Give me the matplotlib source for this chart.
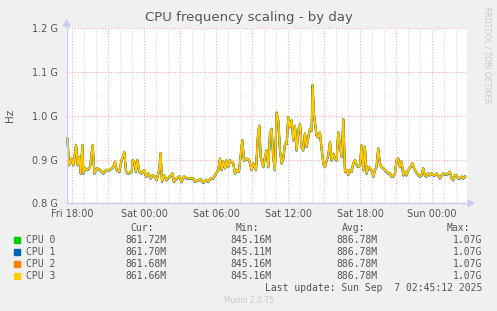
import matplotlib
matplotlib.use("Agg")
import matplotlib.pyplot as plt
import matplotlib.transforms as mtransforms
from matplotlib.patches import Rectangle, Polygon

# hours after Fri 18:00, and frequency in MHz
hours = [-0.41, -0.27, -0.05, 0.09, 0.31, 0.45, 0.59, 0.70, 0.84, 0.92,
         1.06, 1.25, 1.48, 1.70, 1.84, 2.03, 2.31, 2.59, 2.81, 3.14,
         3.42, 3.56, 3.70, 3.92, 4.11, 4.34, 4.48, 4.67, 4.95, 5.03,
         5.17, 5.31, 5.42, 5.59, 5.78, 6.00, 6.14, 6.34, 6.53, 6.70,
         6.89, 7.03, 7.25, 7.36, 7.48, 7.64, 7.86, 8.14, 8.34, 8.47,
         8.70, 8.92, 9.11, 9.31, 9.53, 9.81, 10.09, 10.22, 10.50, 10.73,
         10.92, 11.14, 11.34, 11.53, 11.75, 11.98, 12.17, 12.31, 12.45, 12.59,
         12.73, 12.86, 13.00, 13.14, 13.28, 13.42, 13.56, 13.70, 13.89, 14.17,
         14.31, 14.53, 14.75, 14.95, 15.09, 15.31, 15.50, 15.59, 15.70, 15.92,
         16.06, 16.20, 16.34, 16.48, 16.61, 16.75, 16.89, 17.03, 17.17, 17.31,
         17.45, 17.59, 17.73, 17.87, 18.00, 18.14, 18.28, 18.42, 18.56, 18.70,
         18.84, 18.98, 19.11, 19.25, 19.39, 19.53, 19.67, 19.81, 19.95, 20.03,
         20.14, 20.36, 20.50, 20.64, 20.78, 20.92, 21.06, 21.20, 21.34, 21.48,
         21.61, 21.75, 21.89, 22.03, 22.17, 22.31, 22.45, 22.59, 22.73, 22.86,
         23.00, 23.14, 23.28, 23.42, 23.56, 23.70, 23.84, 23.98, 24.11, 24.25,
         24.39, 24.53, 24.67, 24.81, 24.95, 25.09, 25.23, 25.36, 25.50, 25.64,
         25.78, 25.92, 26.06, 26.20, 26.34, 26.48, 26.61, 26.75, 26.89, 27.03,
         27.17, 27.31, 27.45, 27.59, 27.73, 27.86, 28.00, 28.20, 28.36, 28.48,
         28.64, 28.84, 28.98, 29.11, 29.25, 29.39, 29.53, 29.67, 29.81, 29.95,
         30.09, 30.23, 30.36, 30.50, 30.64, 30.78, 30.92, 31.06, 31.20, 31.34,
         31.48, 31.61, 31.75, 31.89, 32.03, 32.17, 32.31, 32.45, 32.59, 32.73]
freq_mhz = [948, 887, 902, 887, 933, 887, 906, 868, 933, 868,
            880, 876, 883, 933, 868, 880, 876, 868, 876, 876,
            883, 895, 876, 872, 898, 917, 872, 868, 872, 898,
            895, 872, 898, 872, 868, 876, 861, 868, 857, 864,
            861, 853, 876, 914, 849, 864, 853, 861, 868, 849,
            857, 861, 849, 861, 857, 857, 857, 849, 853, 854,
            847, 853, 849, 857, 857, 868, 876, 902, 876, 895,
            880, 898, 883, 898, 895, 891, 868, 876, 872, 944,
            898, 902, 898, 876, 891, 876, 966, 977, 906, 883,
            906, 921, 883, 959, 970, 906, 876, 1007, 989, 921,
            891, 902, 936, 936, 996, 974, 989, 944, 977, 921,
            966, 981, 929, 921, 959, 929, 951, 970, 966, 1070,
            1004, 955, 951, 962, 925, 891, 883, 898, 910, 940,
            898, 913, 902, 898, 962, 932, 906, 992, 872, 876,
            865, 876, 872, 891, 898, 887, 883, 887, 932, 876,
            929, 868, 883, 880, 876, 861, 876, 883, 925, 891,
            883, 880, 876, 872, 868, 868, 861, 861, 868, 898,
            902, 883, 895, 864, 872, 864, 876, 883, 891, 880,
            872, 864, 861, 864, 880, 864, 861, 868, 864, 868,
            864, 864, 868, 864, 857, 864, 868, 866, 866, 868,
            872, 857, 853, 864, 864, 857, 857, 861, 857, 861]

cpus = ["CPU 0", "CPU 1", "CPU 2", "CPU 3"]
colors = ["#00CC00", "#0066B3", "#FF8000", "#FFCC00"]
cur = ["861.72M", "861.70M", "861.68M", "861.66M"]
mins = ["845.16M", "845.11M", "845.16M", "845.16M"]
avgs = ["886.78M", "886.78M", "886.78M", "886.78M"]
maxs = ["1.07G", "1.07G", "1.07G", "1.07G"]

tick_hours = [0, 6, 12, 18, 24, 30]
tick_labels = ["Fri 18:00", "Sat 00:00", "Sat 06:00", "Sat 12:00", "Sat 18:00", "Sun 00:00"]
ytick_vals = [800, 900, 1000, 1100, 1200]
ytick_labels = ["0.8 G", "0.9 G", "1.0 G", "1.1 G", "1.2 G"]

W, H = 497, 311
fig = plt.figure(figsize=(W / 100, H / 100), dpi=100)
fig.patch.set_facecolor("#F0F0F0")

def fx(x):
    return x / W

def fy(y):
    return 1 - y / H

ax = fig.add_axes([fx(66.3), fy(203.3), fx(467 - 66.3), (203.3 - 28.3) / H])
ax.set_facecolor("white")
ax.set_xlim(-0.5, 32.9)
ax.set_ylim(800, 1200)
for s in ax.spines.values():
    s.set_visible(False)

# grid
for h in range(0, 33):
    major = h % 3 == 0
    ax.axvline(h, color="#F4B0B0" if major else "#D8D8D8", lw=0.8,
               ls=(0, (1, 1.5)), zorder=1)
for v in ytick_vals:
    ax.axhline(v, color="#F4B0B0", lw=0.8, ls=(0, (1, 1.5)), zorder=1)

# series, drawn slightly shifted so the lower ones tint the edges
shifts = [0.35, -0.35, 0.2, 0.0]
widths = [1.5, 1.5, 1.3, 1.1]
for name, c, dy, lw in zip(cpus, colors, shifts, widths):
    tr = ax.transData + mtransforms.ScaledTranslation(0, dy / 100, fig.dpi_scale_trans)
    ax.plot(hours, freq_mhz, color=c, lw=lw, transform=tr, zorder=3)

ax.set_xticks(tick_hours)
ax.set_xticklabels(tick_labels)
ax.set_yticks(ytick_vals)
ax.set_yticklabels(ytick_labels)
ax.tick_params(length=0, labelsize=7, colors="#555555", pad=6)
ax.tick_params(axis="x", pad=4)

# axes lines with arrows
axc = "#C8CCF4"
fig.add_artist(plt.Line2D([fx(66.8), fx(66.8)], [fy(203.3), fy(26)], color=axc, lw=1))
fig.add_artist(plt.Line2D([fx(66.8), fx(468)], [fy(203.3), fy(203.3)], color=axc, lw=1))
fig.add_artist(Polygon([[fx(63.5), fy(26)], [fx(70), fy(26)], [fx(66.8), fy(20)]],
                       closed=True, color=axc, transform=fig.transFigure))
fig.add_artist(Polygon([[fx(468), fy(200)], [fx(468), fy(206.6)], [fx(474), fy(203.3)]],
                       closed=True, color=axc, transform=fig.transFigure))

fig.text(fx(249), fy(18), "CPU frequency scaling - by day", ha="center", va="center",
         fontsize=9.5, color="#555555")
fig.text(fx(10), fy(115), "Hz", ha="center", va="center", rotation=90,
         fontsize=7.5, color="#555555")
fig.text(fx(487), fy(55), "RRDTOOL / TOBI OETIKER", ha="center", va="center",
         rotation=-90, fontsize=5.5, color="#C8C8C8")

mono = dict(family="DejaVu Sans Mono", fontsize=7, color="#555555", va="center")
hy = 227.7
fig.text(fx(154.3), fy(hy), "Cur:", ha="right", **mono)
fig.text(fx(259.3), fy(hy), "Min:", ha="right", **mono)
fig.text(fx(365), fy(hy), "Avg:", ha="right", **mono)
fig.text(fx(470), fy(hy), "Max:", ha="right", **mono)
for i, name in enumerate(cpus):
    y = 239.7 + 12 * i
    fig.add_artist(Rectangle((fx(14), fy(y + 3)), fx(6), 6 / H, color=colors[i],
                             transform=fig.transFigure))
    fig.text(fx(26.5), fy(y), name, ha="left", **mono)
    fig.text(fx(166.7), fy(y), cur[i], ha="right", **mono)
    fig.text(fx(271.7), fy(y), mins[i], ha="right", **mono)
    fig.text(fx(377.3), fy(y), avgs[i], ha="right", **mono)
    fig.text(fx(482.3), fy(y), maxs[i], ha="right", **mono)
fig.text(fx(482.3), fy(287.7), "Last update: Sun Sep  7 02:45:12 2025", ha="right", **mono)
fig.text(fx(248.5), fy(300.3), "Munin 2.0.75", ha="center", va="center",
         fontsize=5.5, color="#C8C8C8")

fig.savefig("out.png", dpi=100, facecolor=fig.get_facecolor())
